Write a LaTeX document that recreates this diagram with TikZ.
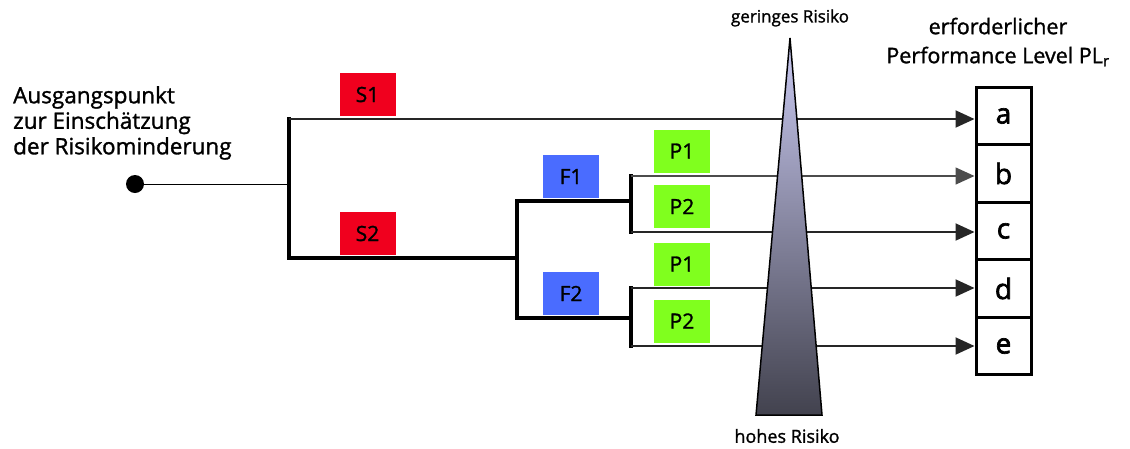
\documentclass[tikz,border=0pt]{standalone}
\usepackage{fontspec}
\setmainfont{Open Sans}
\newfontfamily\medfont{Open Sans}[FakeBold=1.3]
\newfontfamily\heavyfont{Open Sans}[FakeBold=2.4]
\usetikzlibrary{arrows.meta}
\definecolor{sred}{HTML}{F0001E}
\definecolor{fblue}{HTML}{4A6CFF}
\definecolor{pgreen}{HTML}{80FF1E}
\definecolor{tritop}{HTML}{CACAF2}
\definecolor{tribot}{HTML}{42424E}
\begin{document}
\begin{tikzpicture}[x=1pt,y=-1pt,
  txt/.style={inner sep=0pt, text=black},
  tag/.style={minimum width=56pt, minimum height=43pt, inner sep=0pt, font=\medfont\fontsize{21}{24}\selectfont},
  stag/.style={tag, fill=sred},
  ftag/.style={tag, fill=fblue},
  ptag/.style={tag, fill=pgreen},
  lvl/.style={draw, line width=3pt, minimum width=55pt, minimum height=57.5pt, inner sep=0pt, font=\heavyfont\fontsize{28}{30}\selectfont},
  trunk/.style={line width=3.5pt, line cap=rect},
  leaf/.style={line width=2pt, black!85, -{Triangle[length=19pt,width=17pt]}},
  feed/.style={line width=1pt}
]
\useasboundingbox (0,0) rectangle (1130,448);

% left text and start point
\node[txt, anchor=north west, align=left, font=\medfont\fontsize{22.5}{25.5}\selectfont] (intro) at (13,86)
  {Ausgangspunkt\\zur Einschätzung\\der Risikominderung};
\node[circle, fill, inner sep=0pt, minimum size=18pt] (dot) at (135,184) {};

% junction coordinates
\coordinate (j0) at (289,184);
\coordinate (s1) at (289,119);
\coordinate (s2) at (289,258);
\coordinate (fj) at (517,258);
\coordinate (f1) at (517,201);
\coordinate (f2) at (517,318);
\coordinate (f1e) at (631,201);
\coordinate (f2e) at (631,318);
\coordinate (p11) at (631,176);
\coordinate (p12) at (631,232);
\coordinate (p21) at (631,288);
\coordinate (p22) at (631,346);

% PL boxes
\node[lvl] (a) at (1003.5,116) {a};
\node[lvl] (b) at (1003.5,173.5) {b};
\node[lvl] (c) at (1003.5,231) {c};
\node[lvl] (d) at (1003.5,288.5) {d};
\node[lvl] (e) at (1003.5,346) {e};

% tree
\draw[feed] (dot) -- (j0);
\draw[trunk] (s1) -- (s2) -- (fj);
\draw[trunk] (f1) -- (f2);
\draw[trunk] (f1) -- (f1e);
\draw[trunk] (f2) -- (f2e);
\draw[trunk] (p11) -- (p12);
\draw[trunk] (p21) -- (p22);

\draw[leaf] (s1) -- (s1 -| a.west);
\draw[leaf, line width=1.5pt, black!70] (p11) -- (p11 -| b.west);
\draw[leaf] (p12) -- (p12 -| c.west);
\draw[leaf] (p21) -- (p21 -| d.west);
\draw[leaf] (p22) -- (p22 -| e.west);

% tags
\node[stag] (S1) at (367.5,94.5) {S1};
\node[stag] (S2) at (367.5,233.5) {S2};
\node[ftag] (F1) at (571,176.5) {F1};
\node[ftag] (F2) at (571,293.5) {F2};
\node[ptag] (P11) at (682,151) {P1};
\node[ptag] (P12) at (682,206.5) {P2};
\node[ptag] (P21) at (682,264) {P1};
\node[ptag] (P22) at (682,321) {P2};

% risk triangle
\shade[top color=tritop, bottom color=tribot] (790,38) -- (822,415) -- (756,415) -- cycle;
\draw[line width=1.5pt, line join=miter] (790,38) -- (822,415) -- (756,415) -- cycle;

\node[txt, font=\medfont\fontsize{17}{19}\selectfont] (low) at (790,18) {geringes Risiko};
\node[txt, font=\medfont\fontsize{18}{20}\selectfont] (high) at (787,436) {hohes Risiko};

\node[txt, align=center, font=\medfont\fontsize{21.5}{29}\selectfont] (plr) at (998,42)
  {erforderlicher\\Performance Level PL\textsubscript{r}};
\end{tikzpicture}
\end{document}
